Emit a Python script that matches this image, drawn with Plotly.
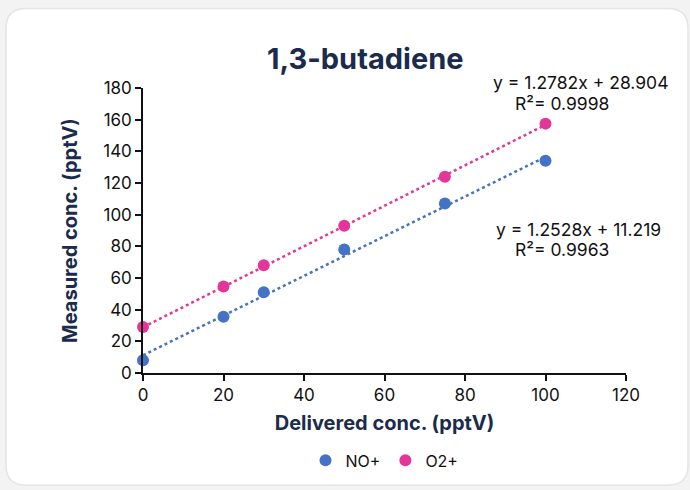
import plotly.graph_objects as go
import numpy as np

delivered = [0, 20, 30, 50, 75, 100]
no_plus = [8, 35.5, 51, 78, 107, 134]
o2_plus = [29, 54.6, 68, 93, 124, 157.5]
no_fit = (1.2528, 11.219)
o2_fit = (1.2782, 28.904)

BLUE = "#4472c4"
PINK = "#e3369a"
NAVY = "#1b2b4b"
FONT = "Inter"

W, H = 690, 490
L, R, T, B = 143, 64, 88, 115
pw, ph = W - L - R, H - T - B

def px(x):
    return (x - L) / pw

def py(y):
    return (H - B - y) / ph

fig = go.Figure()

xs = np.array([0, 100])
fig.add_trace(go.Scatter(x=xs, y=no_fit[0] * xs + no_fit[1], mode="lines",
                         line=dict(color=BLUE, width=2.5, dash="dot"), showlegend=False, hoverinfo="skip"))
fig.add_trace(go.Scatter(x=xs, y=o2_fit[0] * xs + o2_fit[1], mode="lines",
                         line=dict(color=PINK, width=2.5, dash="dot"), showlegend=False, hoverinfo="skip"))
fig.add_trace(go.Scatter(x=delivered, y=no_plus, mode="markers", name="NO+",
                         marker=dict(color=BLUE, size=12), cliponaxis=False))
fig.add_trace(go.Scatter(x=delivered, y=o2_plus, mode="markers", name="O2+",
                         marker=dict(color=PINK, size=12), cliponaxis=False))

# card
x0, x1, y0, y1 = 6, 688, 8, 488
r = 20
rx, ry = r / pw, r / ph
X0, X1, Y0, Y1 = px(x0), px(x1), py(y1), py(y0)
path = (f"M {X0+rx},{Y1} L {X1-rx},{Y1} Q {X1},{Y1} {X1},{Y1-ry} "
        f"L {X1},{Y0+ry} Q {X1},{Y0} {X1-rx},{Y0} L {X0+rx},{Y0} Q {X0},{Y0} {X0},{Y0+ry} "
        f"L {X0},{Y1-ry} Q {X0},{Y1} {X0+rx},{Y1} Z")
fig.add_shape(type="path", path=path, xref="paper", yref="paper",
              fillcolor="white", line=dict(color="#e4e4e4", width=1.5), layer="below")

ann_font = dict(family=FONT, size=17.5, color="#111111")
annots = [
    (f"y = {o2_fit[0]}x + {o2_fit[1]}", 580, 82),
    ("R²= 0.9998", 562, 104),
    (f"y = {no_fit[0]}x + {no_fit[1]}", 578, 230),
    ("R²= 0.9963", 562, 251),
]
for txt, ax, ay in annots:
    fig.add_annotation(text=txt, x=px(ax), y=py(ay), xref="paper", yref="paper",
                       showarrow=False, font=ann_font, xanchor="center", yanchor="middle")

fig.add_annotation(text="<b>1,3-butadiene</b>", x=px(365), y=py(58), xref="paper", yref="paper",
                   showarrow=False, font=dict(family=FONT, size=29, color=NAVY),
                   xanchor="center", yanchor="middle")

axis_common = dict(showgrid=False, zeroline=False, showline=True, linecolor="#111111", linewidth=1.5,
                   ticks="outside", ticklen=6, tickcolor="#111111", tickwidth=1.5,
                   tickfont=dict(family=FONT, size=17, color="#111111"))

fig.update_layout(
    width=W, height=H,
    margin=dict(l=L, r=R, t=T, b=B),
    paper_bgcolor="#f3f3f3", plot_bgcolor="rgba(0,0,0,0)",
    xaxis=dict(range=[0, 120], dtick=20, **axis_common,
               title=dict(text="<b>Delivered conc. (pptV)</b>", font=dict(family=FONT, size=20, color=NAVY), standoff=12)),
    yaxis=dict(range=[0, 180], dtick=20, **axis_common,
               title=dict(text="<b>Measured conc. (pptV)</b>", font=dict(family=FONT, size=20, color=NAVY), standoff=20)),
    legend=dict(orientation="h", x=0.5, xanchor="center", y=py(463), yanchor="middle",
                font=dict(family=FONT, size=16, color="#111111"), bgcolor="rgba(0,0,0,0)",
                itemwidth=30, tracegroupgap=0),
    showlegend=True,
)

fig.write_html("out.html")
